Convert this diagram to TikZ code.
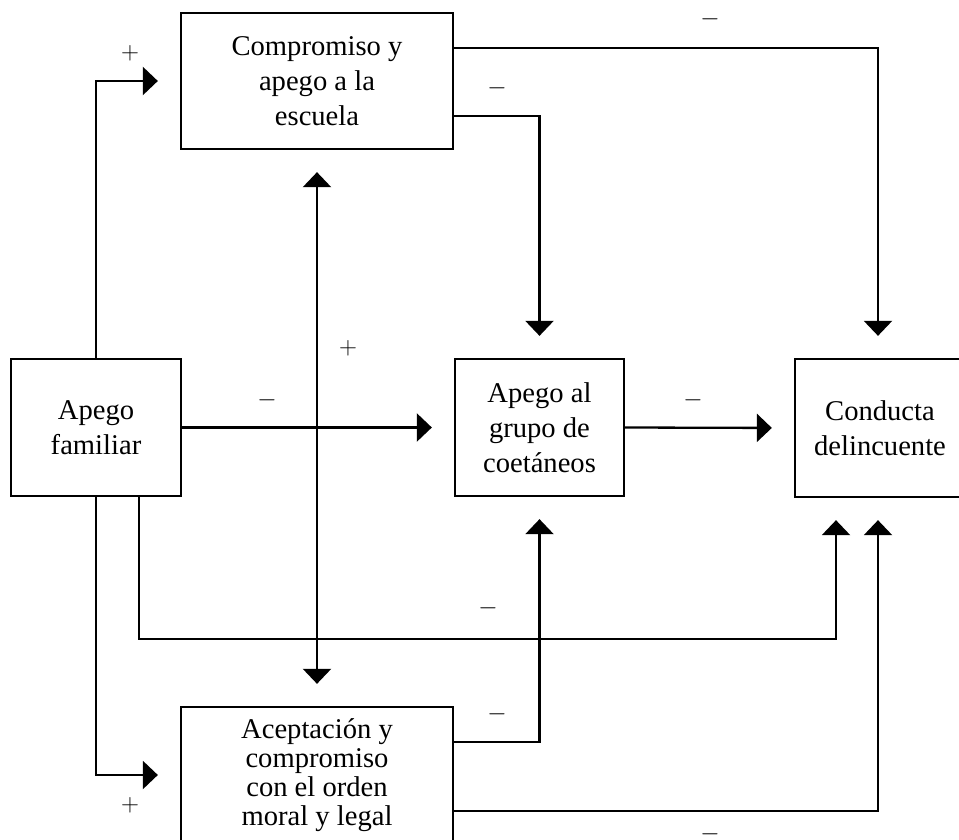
\documentclass[tikz,border=0pt]{standalone}
\usepackage{fontspec}
\setmainfont{Liberation Serif}
\usetikzlibrary{arrows.meta}
\begin{document}
\begin{tikzpicture}[x=1pt,y=-1pt,>={Triangle[length=15pt,width=28pt]},
    box/.style={draw,line width=2.3pt,align=center,inner sep=0pt,
      font=\fontsize{28.6}{35}\selectfont},
    arr/.style={line width=2.3pt,->,shorten >=22pt},
    darr/.style={line width=2.3pt,<->,shorten >=22pt,shorten <=22pt},
    lbl/.style={inner sep=0pt,font=\fontsize{26}{26}\selectfont}]
  \useasboundingbox (0,0) rectangle (959,840);
  \node[box,minimum width=272pt,minimum height=136pt] (esc) at (317,81) {Compromiso y\\apego a la\\escuela};
  \node[box,minimum width=170pt,minimum height=137pt] (fam) at (96,427.5) {Apego\\familiar};
  \node[box,minimum width=169pt,minimum height=137pt] (grp) at (539.5,427.5) {Apego al\\grupo de\\coetáneos};
  \node[box,minimum width=170pt,minimum height=138pt] (con) at (880,428) {Conducta\\delincuente};
  \node[box,minimum width=272pt,minimum height=136pt,
    font=\fontsize{28.6}{29}\selectfont] (ace) at (317,775) {Aceptación y\\compromiso\\con el orden\\moral y legal};
  \draw[arr] (fam.north) |- (esc.west);
  \draw[arr] (fam.south) |- (ace.west);
  \draw[arr] (fam.east) -- (grp.west);
  \draw[arr] (grp.east) -- (con.west);
  \draw[darr] (esc.south) -- (ace.north);
  \draw[arr] ([yshift=-35pt]esc.east) -| (grp.north);
  \draw[arr] ([yshift=33pt]esc.east) -| ([xshift=-2pt]con.north);
  \draw[arr] ([yshift=33pt]ace.east) -| (grp.south);
  \draw[arr] ([yshift=-36pt]ace.east) -| ([xshift=-2pt]con.south);
  \draw[arr] ([xshift=43pt]fam.south) -- ++(0,142) -| ([xshift=-44pt]con.south);
  \node[lbl] (p1) at (130,53) {$+$};
  \node[lbl] (p2) at (348,348) {$+$};
  \node[lbl] (p3) at (130,805) {$+$};
  \node[lbl] (m1) at (710,19) {$-$};
  \node[lbl] (m2) at (497,88) {$-$};
  \node[lbl] (m3) at (267,400) {$-$};
  \node[lbl] (m4) at (693,400) {$-$};
  \node[lbl] (m5) at (488,608) {$-$};
  \node[lbl] (m6) at (497,714) {$-$};
  \node[lbl] (m7) at (710,834) {$-$};
\end{tikzpicture}
\end{document}
